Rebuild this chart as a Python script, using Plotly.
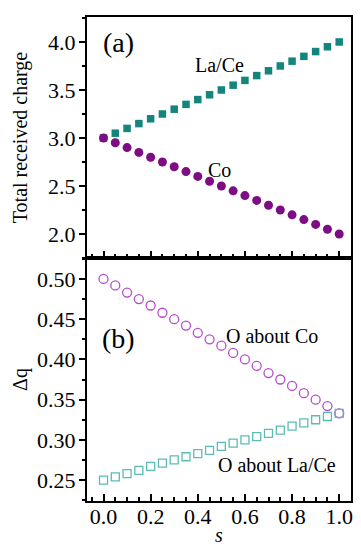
import plotly.graph_objects as go
from plotly.subplots import make_subplots

s = [0.00, 0.05, 0.10, 0.15, 0.20, 0.25, 0.30, 0.35, 0.40, 0.45, 0.50,
     0.55, 0.60, 0.65, 0.70, 0.75, 0.80, 0.85, 0.90, 0.95, 1.00]
la_ce_charge = [3.00, 3.05, 3.10, 3.15, 3.20, 3.25, 3.30, 3.35, 3.40, 3.45, 3.50,
                3.55, 3.60, 3.65, 3.70, 3.75, 3.80, 3.85, 3.90, 3.95, 4.00]
co_charge = [3.00, 2.95, 2.90, 2.85, 2.80, 2.75, 2.70, 2.65, 2.60, 2.55, 2.50,
             2.45, 2.40, 2.35, 2.30, 2.25, 2.20, 2.15, 2.10, 2.05, 2.00]
dq_o_co = [0.500, 0.492, 0.483, 0.475, 0.467, 0.458, 0.450, 0.442, 0.433, 0.425, 0.417,
           0.408, 0.400, 0.392, 0.383, 0.375, 0.367, 0.358, 0.350, 0.342, 0.333]
dq_o_lace = [0.250, 0.254, 0.258, 0.262, 0.267, 0.271, 0.275, 0.279, 0.283, 0.287, 0.292,
             0.296, 0.300, 0.304, 0.308, 0.312, 0.317, 0.321, 0.325, 0.329, 0.333]

TEAL = "#13857c"
PURPLE = "#7d0c85"
LPURPLE = "#b54fc9"
LTEAL = "#5cbcb4"
FONT = "Liberation Serif"
FS = 20
TFS = 22

fig = make_subplots(rows=2, cols=1, shared_xaxes=True, vertical_spacing=0)

fig.add_trace(go.Scatter(x=s, y=la_ce_charge, mode="markers",
                         marker=dict(symbol="square", size=7.5, color=TEAL)), row=1, col=1)
fig.add_trace(go.Scatter(x=s, y=co_charge, mode="markers",
                         marker=dict(symbol="circle", size=9, color=PURPLE)), row=1, col=1)
fig.add_trace(go.Scatter(x=s, y=dq_o_co, mode="markers",
                         marker=dict(symbol="circle-open", size=9, color=LPURPLE,
                                     line=dict(width=1.3))), row=2, col=1)
fig.add_trace(go.Scatter(x=s, y=dq_o_lace, mode="markers",
                         marker=dict(symbol="square-open", size=8, color=LTEAL,
                                     line=dict(width=1.3))), row=2, col=1)

axis_common = dict(showline=True, linecolor="black", linewidth=2, mirror=True,
                   showgrid=False, zeroline=False,
                   tickfont=dict(family=FONT, size=TFS, color="black"))

fig.update_xaxes(**axis_common, range=[-0.07, 1.05], dtick=0.2, tick0=0,
                 ticks="inside", ticklen=7, tickwidth=1.5, tickcolor="black",
                 minor=dict(dtick=0.05, ticks="inside", ticklen=4, tickwidth=1.5, tickcolor="black"),
                 tickformat=".1f")
fig.update_xaxes(showticklabels=False, row=1, col=1)
fig.update_xaxes(ticklabelstandoff=-5,
                 title=dict(text="<i>s</i>", font=dict(family=FONT, size=20, color="black"),
                            standoff=0), row=2, col=1)

fig.update_yaxes(**axis_common, ticks="outside", ticklen=6, tickwidth=1.5, tickcolor="black",
                 ticklabelstandoff=-1)
fig.update_yaxes(range=[1.75, 4.26], dtick=0.5, tick0=0, tickformat=".1f",
                 minor=dict(dtick=0.25, ticks="outside", ticklen=3, tickwidth=1.5, tickcolor="black"),
                 title=dict(text="Total received charge", font=dict(family=FONT, size=FS, color="black"),
                            standoff=15), row=1, col=1)
fig.update_yaxes(range=[0.224, 0.526], dtick=0.05, tick0=0, tickformat=".2f",
                 minor=dict(dtick=0.025, ticks="outside", ticklen=3, tickwidth=1.5, tickcolor="black"),
                 title=dict(text="Δq", font=dict(family=FONT, size=FS, color="black"),
                            standoff=4), row=2, col=1)

fig.update_layout(
    width=361, height=550,
    margin=dict(l=79, r=18, t=7, b=57),
    paper_bgcolor="white", plot_bgcolor="white",
    showlegend=False,
    font=dict(family=FONT, color="black"),
)
fig.update_layout(yaxis=dict(domain=[0.502, 1.0]), yaxis2=dict(domain=[0.0, 0.502]))

ann = dict(showarrow=False, font=dict(family=FONT, size=FS, color="black"))
big = dict(showarrow=False, font=dict(family=FONT, size=28, color="black"))
fig.add_annotation(x=0.063, y=3.99, xref="x", yref="y", text="(a)", **big)
fig.add_annotation(x=0.494, y=3.76, xref="x", yref="y", text="La/Ce", **ann)
fig.add_annotation(x=0.49, y=2.67, xref="x", yref="y", text="Co", **ann)
fig.add_annotation(x=0.065, y=0.426, xref="x2", yref="y2", text="(b)", **big)
fig.add_annotation(x=0.715, y=0.429, xref="x2", yref="y2", text="O about Co", **ann)
fig.add_annotation(x=0.737, y=0.269, xref="x2", yref="y2", text="O about La/Ce", **ann)

fig.write_html("out.html")
